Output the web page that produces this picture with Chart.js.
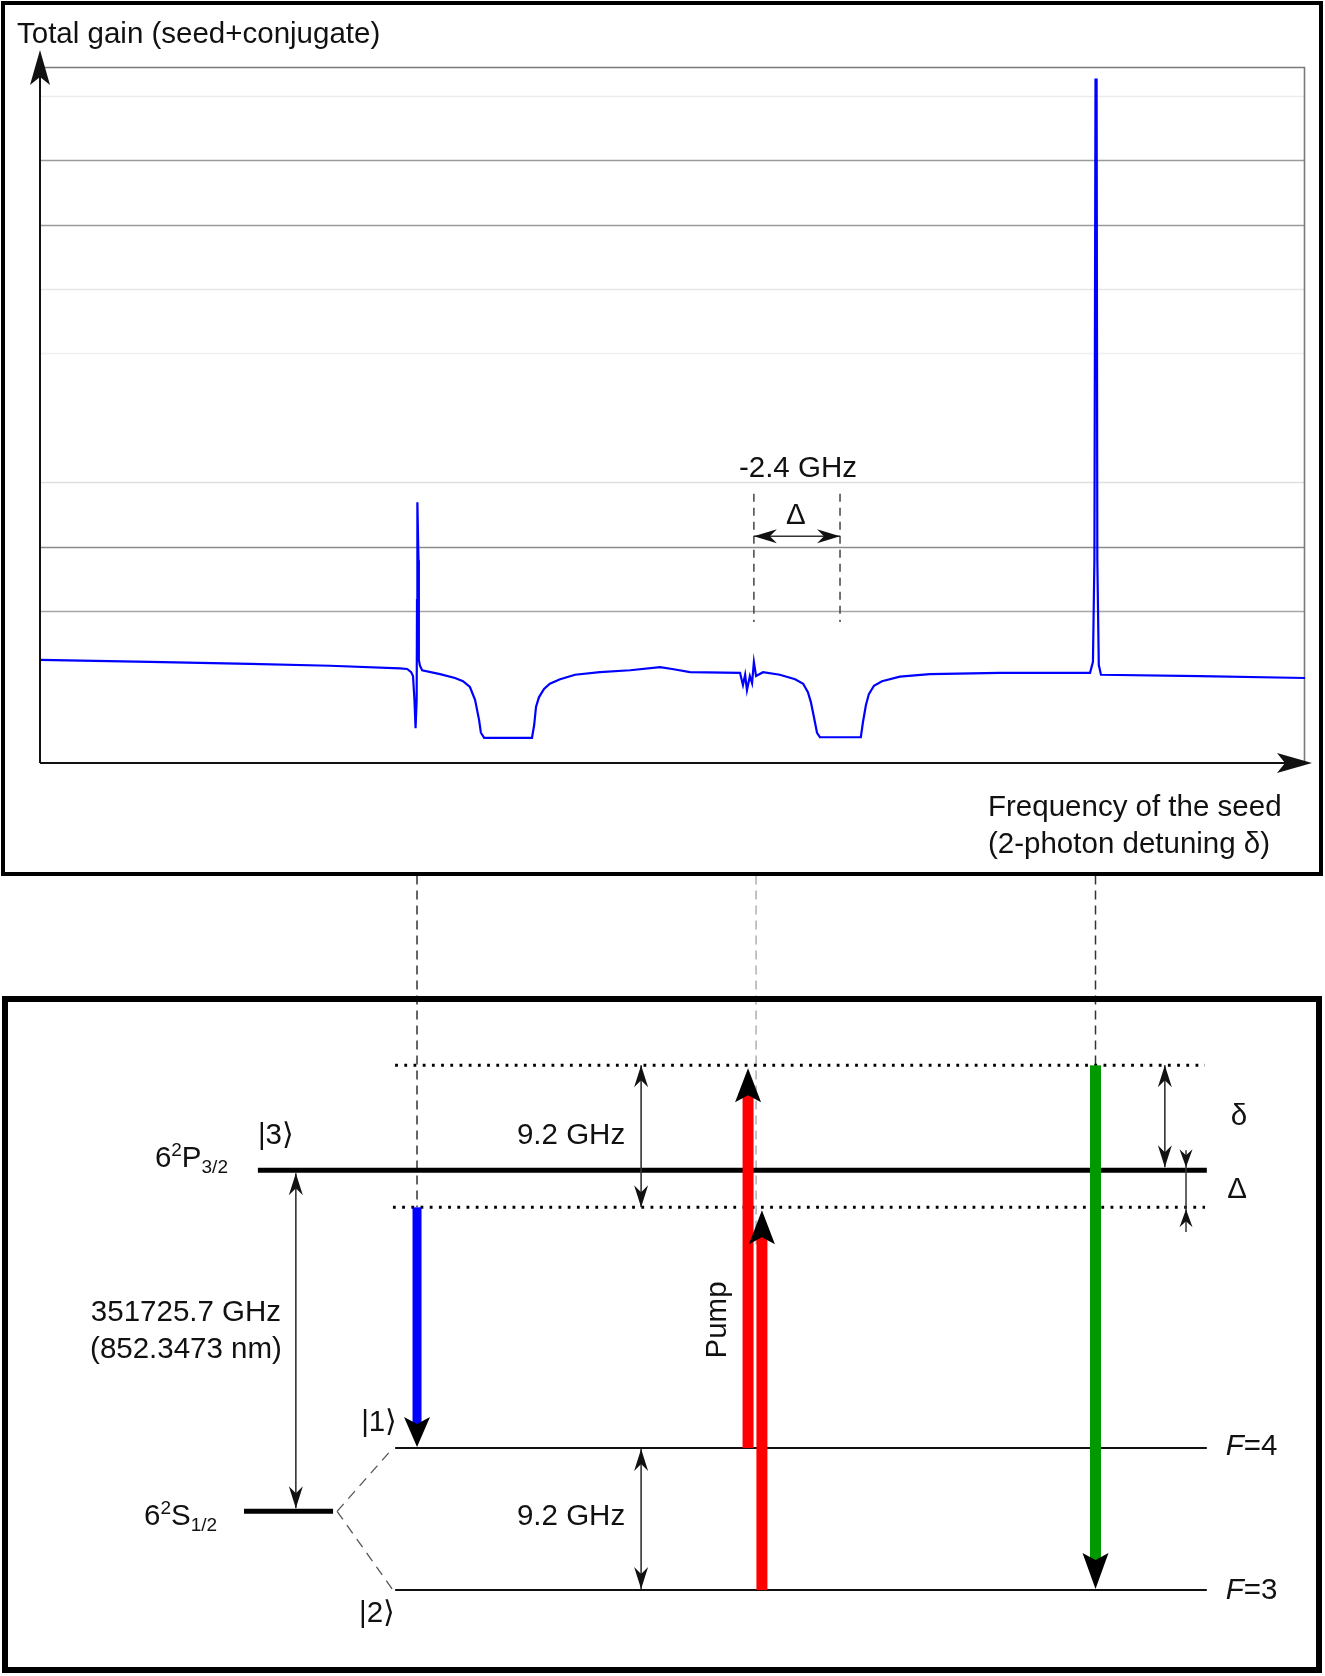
<!DOCTYPE html>
<html><head><meta charset="utf-8">
<script src="https://cdn.jsdelivr.net/npm/chart.js@4.4.1/dist/chart.umd.min.js"></script>
<style>
html,body{margin:0;padding:0;background:#fff;}
body{width:1325px;height:1676px;position:relative;overflow:hidden;}
#c1{position:absolute;left:0;top:0;}
#c2{position:absolute;left:0;top:876px;}
.box{position:absolute;box-sizing:border-box;border:solid #000;pointer-events:none;}
</style></head><body>
<canvas id="c1" width="1325" height="876"></canvas>
<canvas id="c2" width="1325" height="800"></canvas>
<div class="box" style="left:1px;top:1px;width:1322px;height:875px;border-width:4px;"></div>
<div class="box" style="left:2px;top:996px;width:1320px;height:677px;border-width:6px;"></div>
<script>
// ---------------- DATA ----------------
// Seed frequency (GHz, relative to pump) and total gain (arbitrary units, grid spacing = 1)
const freqGHz = [-19.59,-16.58,-13.84,-11.64,-9.73,-9.53,-9.42,-9.37,-9.33,-9.30,
  -9.27,-9.26,-9.25,-9.22,-9.21,-9.18,-9.12,-8.63,-8.22,-8.00,
  -7.81,-7.67,-7.56,-7.51,-7.42,-6.71,-6.11,-6.05,-6.00,-5.92,
  -5.78,-5.62,-5.34,-4.93,-4.25,-3.42,-2.60,-2.27,-1.78,-0.41,
  -0.33,-0.27,-0.22,-0.14,-0.08,-0.03,0.03,0.22,0.68,1.10,
  1.32,1.45,1.53,1.62,1.70,1.78,2.33,2.90,2.96,3.04,
  3.12,3.26,3.48,3.97,4.79,6.71,9.18,9.26,9.30,9.33,
  9.36,9.38,9.42,9.48,12.19,15.07];
const gain = [-0.76,-0.79,-0.82,-0.85,-0.89,-0.90,-0.95,-1.01,-1.38,-1.82,
  -1.38,0.17,1.69,0.79,-0.76,-0.85,-0.92,-0.98,-1.04,-1.09,
  -1.18,-1.38,-1.69,-1.89,-1.97,-1.97,-1.97,-1.77,-1.49,-1.34,
  -1.21,-1.13,-1.06,-0.99,-0.95,-0.92,-0.87,-0.90,-0.95,-0.96,
  -1.15,-0.99,-1.23,-1.01,-1.12,-0.79,-1.01,-0.95,-0.99,-1.06,
  -1.13,-1.26,-1.41,-1.66,-1.89,-1.96,-1.96,-1.96,-1.72,-1.46,
  -1.29,-1.16,-1.09,-1.02,-0.98,-0.96,-0.96,-0.79,0.79,8.25,
  8.25,0.79,-0.84,-0.99,-1.01,-1.04];
const gridValues = [0,1,2,4,5,6,7,8];
const deltaMarks = [-0.03, 2.33];          // Δ = -2.4 GHz marker positions (GHz)

// Energy-level diagram (GHz, relative to F=3)
const levelNames = ['F=3','F=4','6S1/2','virtual lower','|3>','virtual upper'];
const levelEnergies = [0, 9.2, 5.1, 24.8, 27.2, 34.0];
const transitionNames = ['Seed','Pump','Pump','Conjugate'];
const transitionX = [-9.26, -0.19, 0.19, 9.33];
const transitionFrom = [24.8, 9.2, 0, 34.0];
const transitionTo = [9.2, 34.0, 24.8, 0];

// ---------------- STYLE / LAYOUT ----------------
const gridShades = ['#a6a6a6','#8a8a8a','#e0e0e0','#f0f0f0','#e6e6e6','#9a9a9a','#9a9a9a','#ececec'];
const transitionColors = ['#0000ff','#ff0000','#ff0000','#009a00'];
const FONT = '"Liberation Sans", Arial, sans-serif';
const FS = 29.5;
const TXT = '#111';

function head(ctx, tx, ty, dx, dy, len, hw, notch, color){
  const px=-dy, py=dx, bx=tx-dx*len, by=ty-dy*len;
  ctx.beginPath();
  ctx.moveTo(tx,ty);
  ctx.lineTo(bx+px*hw, by+py*hw);
  ctx.lineTo(tx-dx*(len-notch), ty-dy*(len-notch));
  ctx.lineTo(bx-px*hw, by-py*hw);
  ctx.closePath();
  ctx.fillStyle=color; ctx.fill();
}
function seg(ctx,x1,y1,x2,y2,color,lw,dash){
  ctx.save(); ctx.beginPath(); ctx.strokeStyle=color; ctx.lineWidth=lw; ctx.setLineDash(dash||[]);
  ctx.moveTo(x1,y1); ctx.lineTo(x2,y2); ctx.stroke(); ctx.restore();
}
function text(ctx,s,x,y,align,size,style){
  ctx.save(); ctx.font=(style||'')+' '+(size||FS)+'px '+FONT; ctx.fillStyle=TXT;
  ctx.textAlign=align||'left'; ctx.textBaseline='alphabetic'; ctx.fillText(s,x,y); ctx.restore();
}
function rich(ctx,parts,x,y,align){
  ctx.save(); ctx.fillStyle=TXT; ctx.textBaseline='alphabetic'; ctx.textAlign='left';
  let w=0; parts.forEach(p=>{ctx.font=(p[3]||'')+' '+p[1]+'px '+FONT; w+=ctx.measureText(p[0]).width;});
  let cx = align==='right'? x-w : align==='center'? x-w/2 : x;
  parts.forEach(p=>{ctx.font=(p[3]||'')+' '+p[1]+'px '+FONT; ctx.fillText(p[0],cx,y+p[2]); cx+=ctx.measureText(p[0]).width;});
  ctx.restore();
}
function thinDouble(ctx,x,y1,y2){
  seg(ctx,x,y1,x,y2,'#333',1.6);
  const d = y2>y1?1:-1;
  head(ctx,x,y1,0,-d,22,7,7,'#111');
  head(ctx,x,y2,0,d,22,7,7,'#111');
}

// ---------------- UPPER CHART ----------------
const upperDeco = {
  id:'upperDeco',
  beforeDatasetsDraw(chart){
    const {ctx, chartArea:a, scales:{y}} = chart;
    gridValues.forEach((v,i)=>{
      const py=Math.round(y.getPixelForValue(v))+0.5;
      seg(ctx,a.left,py,a.right,py,gridShades[i],1.6);
    });
    seg(ctx,a.left,a.top+0.5,a.right,a.top+0.5,'#7a7a7a',1.6);
    seg(ctx,a.right-0.5,a.top,a.right-0.5,a.bottom,'#7a7a7a',1.6);
  },
  afterDatasetsDraw(chart){
    const {ctx, chartArea:a, scales:{x,y}} = chart;
    // axes
    seg(ctx,a.left,a.bottom,a.left,a.top-10,'#111',2);
    head(ctx,a.left,a.top-17,0,-1,35,10,8,'#111');
    seg(ctx,a.left,a.bottom,a.right,a.bottom,'#111',2);
    head(ctx,a.right+7,a.bottom,1,0,35,10,8,'#111');
    // Δ marker
    const x1=x.getPixelForValue(deltaMarks[0]), x2=x.getPixelForValue(deltaMarks[1]);
    const yt=y.getPixelForValue(1.82), yb=y.getPixelForValue(-0.17), ya=y.getPixelForValue(1.16);
    seg(ctx,x1,yt,x1,yb,'#444',1.5,[8,6]);
    seg(ctx,x2,yt,x2,yb,'#444',1.5,[8,6]);
    seg(ctx,x1,ya,x2,ya,'#333',1.6);
    head(ctx,x1,ya,-1,0,23,7,7,'#111');
    head(ctx,x2,ya,1,0,23,7,7,'#111');
    const xc=(x1+x2)/2;
    text(ctx,'-2.4 GHz',xc+1,y.getPixelForValue(2.24)+10.5,'center');
    text(ctx,'Δ',xc-1,y.getPixelForValue(1.51)+10.5,'center');
    // titles
    text(ctx,'Total gain (seed+conjugate)',17,43,'left');
    text(ctx,'Frequency of the seed',988,816,'left');
    text(ctx,'(2-photon detuning δ)',988,853,'left');
  }
};
new Chart(document.getElementById('c1'),{
  type:'line',
  data:{datasets:[{data:freqGHz.map((f,i)=>({x:f,y:gain[i]})),borderColor:'#0000ff',borderWidth:2.2,
    pointRadius:0,tension:0,fill:false}]},
  options:{responsive:false,animation:false,devicePixelRatio:1,
    layout:{padding:{left:40,top:67,right:20,bottom:113}},
    plugins:{legend:{display:false},tooltip:{enabled:false}},
    scales:{x:{type:'linear',display:false,min:-19.59,max:15.07},y:{type:'linear',display:false,min:-2.36,max:8.447}}},
  plugins:[upperDeco]
});

// ---------------- LOWER CHART ----------------
const E = levelEnergies;
const lvl = (x1,x2,e)=>[{x:x1,y:e},{x:x2,y:e}];
const lowerSets = [
  // connectors from spectrum features
  {data:[{x:transitionX[0],y:46.3},{x:transitionX[0],y:E[3]}],borderColor:'#333',borderWidth:1.5,borderDash:[9,6],order:10},
  {data:[{x:0.03,y:46.3},{x:0.03,y:22.4}],borderColor:'#b0b0b0',borderWidth:1.5,borderDash:[9,6],order:10},
  {data:[{x:transitionX[3],y:46.3},{x:transitionX[3],y:E[5]}],borderColor:'#333',borderWidth:1.5,borderDash:[9,6],order:10},
  // levels
  {data:lvl(-13.62,12.38,E[4]),borderColor:'#000',borderWidth:5,order:1},
  {data:lvl(-9.86,12.33,E[5]),borderColor:'#000',borderWidth:3,borderDash:[2.8,6.4],order:1},
  {data:lvl(-9.92,12.33,E[3]),borderColor:'#000',borderWidth:3,borderDash:[2.8,6.4],order:1},
  {data:lvl(-9.86,12.38,E[1]),borderColor:'#111',borderWidth:2,order:1},
  {data:lvl(-9.86,12.38,E[0]),borderColor:'#111',borderWidth:2,order:1},
  {data:lvl(-14.0,-11.56,E[2]),borderColor:'#000',borderWidth:5,order:1},
  {data:[{x:-11.45,y:E[2]},{x:-9.92,y:E[1]}],borderColor:'#555',borderWidth:1.3,borderDash:[10,7],order:2},
  {data:[{x:-11.45,y:E[2]},{x:-9.92,y:E[0]}],borderColor:'#555',borderWidth:1.3,borderDash:[10,7],order:2}
];
const lowerDeco = {
  id:'lowerDeco',
  afterDatasetsDraw(chart){
    const {ctx, scales:{x,y}} = chart;
    const X=v=>x.getPixelForValue(v), Y=v=>y.getPixelForValue(v);
    // thick transition arrows
    const widths=[9,11,11,11], lens=[30,34,34,36];
    transitionX.forEach((tx,i)=>{
      const px=X(tx), y1=Y(transitionFrom[i]), y2=Y(transitionTo[i]);
      const d = y2>y1?1:-1, L=lens[i];
      ctx.save(); ctx.fillStyle=transitionColors[i];
      const yEnd=y2-d*(L-7);
      ctx.fillRect(px-widths[i]/2, Math.min(y1,yEnd), widths[i], Math.abs(yEnd-y1));
      ctx.restore();
      head(ctx,px,y2+(d>0?-1:3),0,d,L,13,7,'#000');
    });
    // thin double arrows
    thinDouble(ctx,X(-12.58),Y(E[4])+3,Y(E[2])-3);
    thinDouble(ctx,X(-3.12),Y(E[5]),Y(E[3]));
    thinDouble(ctx,X(-3.12),Y(E[1])+1,Y(E[0])-1);
    thinDouble(ctx,X(11.23),Y(E[5]),Y(E[4])-3);
    // Δ inward arrows
    const dx=X(11.81);
    seg(ctx,dx,Y(28.5),dx,Y(23.2),'#333',1.5);
    head(ctx,dx,Y(E[4])-3,0,1,18,6.5,6,'#111');
    head(ctx,dx,Y(E[3])+2,0,-1,18,6.5,6,'#111');
    // labels
    text(ctx,'|3⟩',X(-13.62),Y(29.6)+10.5,'left');
    text(ctx,'|1⟩',X(-10.79),Y(11.0)+10.5,'left');
    text(ctx,'|2⟩',X(-10.85),Y(-1.4)+10.5,'left');
    text(ctx,'9.2 GHz',X(-5.04),Y(29.6)+10.5,'center');
    text(ctx,'9.2 GHz',X(-5.04),Y(4.9)+10.5,'center');
    text(ctx,'351725.7 GHz',X(-15.59),Y(18.1)+10.5,'center');
    text(ctx,'(852.3473 nm)',X(-15.59),Y(15.7)+10.5,'center');
    text(ctx,'δ',X(13.26),Y(30.8)+10.5,'center');
    text(ctx,'Δ',X(13.21),Y(26.1)+10.5,'center');
    rich(ctx,[['F',FS,0,'italic'],['=4',FS,0]],X(12.9),Y(9.4)+10.5,'left');
    rich(ctx,[['F',FS,0,'italic'],['=3',FS,0]],X(12.9),Y(0.1)+10.5,'left');
    rich(ctx,[['6',FS,0],['2',19,-11],['P',FS,0],['3/2',19,6]],X(-14.44),Y(28.1)+10.5,'right');
    rich(ctx,[['6',FS,0],['2',19,-11],['S',FS,0],['1/2',19,6]],X(-16.74),Y(4.9)+10.5,'left');
    ctx.save(); ctx.translate(X(-1.01)+8,Y(17.5)); ctx.rotate(-Math.PI/2);
    text(ctx,'Pump',0,0,'center'); ctx.restore();
  }
};
new Chart(document.getElementById('c2'),{
  type:'line',
  data:{datasets:lowerSets.map(s=>Object.assign({pointRadius:0,tension:0,fill:false,clip:false},s))},
  options:{responsive:false,animation:false,devicePixelRatio:1,
    layout:{padding:{left:40,top:0,right:20,bottom:0}},
    plugins:{legend:{display:false},tooltip:{enabled:false}},
    scales:{x:{type:'linear',display:false,min:-19.59,max:15.07},y:{type:'linear',display:false,min:-5.57,max:46.27}}},
  plugins:[lowerDeco]
});
</script>
</body></html>
